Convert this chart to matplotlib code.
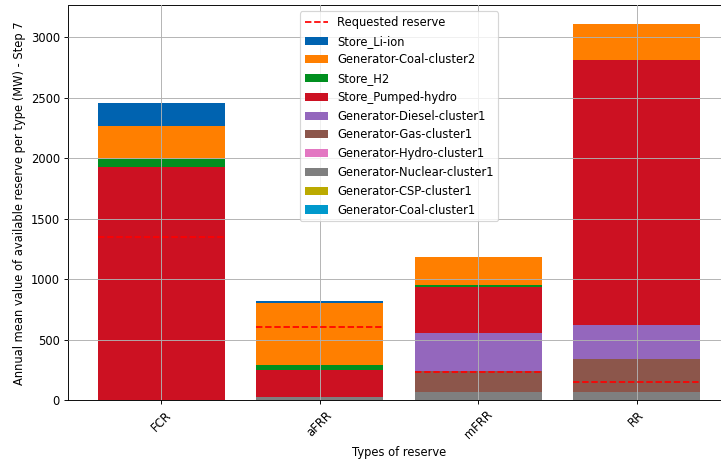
import matplotlib

matplotlib.use("Agg")
import matplotlib.pyplot as plt
import numpy as np
from matplotlib.lines import Line2D
from matplotlib.patches import Patch


RESERVES = ["FCR", "aFRR", "mFRR", "RR"]

# stacked from the bottom up (MW)
COAL1 = [0, 0, 0, 0]
CSP = [0, 0, 0, 0]
NUCLEAR = [0, 28, 69, 66]
HYDRO = [0, 0, 0, 0]
GAS = [0, 0, 169, 276]
DIESEL = [0, 0, 317, 278]
PUMPED = [1926, 223, 381, 2187]
H2 = [66, 42, 14, 6]
COAL2 = [276, 508, 232, 292]
LI_ION = [187, 22, 0, 0]

REQUESTED = [1345, 605, 235, 149]

LAYERS = [
    ("Generator-Coal-cluster1", COAL1, "#0099cc"),
    ("Generator-CSP-cluster1", CSP, "#bbaa00"),
    ("Generator-Nuclear-cluster1", NUCLEAR, "#7f7f7f"),
    ("Generator-Hydro-cluster1", HYDRO, "#e377c2"),
    ("Generator-Gas-cluster1", GAS, "#8c564b"),
    ("Generator-Diesel-cluster1", DIESEL, "#9467bd"),
    ("Store_Pumped-hydro", PUMPED, "#cc1122"),
    ("Store_H2", H2, "#008f1f"),
    ("Generator-Coal-cluster2", COAL2, "#ff7f00"),
    ("Store_Li-ion", LI_ION, "#0063b0"),
]


def main():
    fig = plt.figure(figsize=(721 / 83, 464 / 83), dpi=83)
    ax = fig.add_axes([68 / 721, 63.7 / 464, 662 / 721, 394.8 / 464])

    x = np.arange(len(RESERVES))
    width = 0.8
    bottom = np.zeros(len(RESERVES))
    handles = []
    for label, values, color in LAYERS:
        values = np.array(values, dtype=float)
        ax.bar(x, values, width, bottom=bottom, color=color, label=label)
        bottom += values
        handles.append(Patch(facecolor=color, label=label))

    ax.hlines(REQUESTED, x - width / 2, x + width / 2, colors="red",
              linestyles="--", linewidth=1.5, zorder=3)

    # zero-height top layers pin the autoscale, so pad the top by hand
    ax.set_ylim(0, bottom.max() * 1.05)

    ax.set_xticks(x, RESERVES, rotation=45)
    ax.set_xlabel("Types of reserve")
    ax.set_ylabel("Annual mean value of available reserve per type (MW) - Step 7")
    ax.grid(True)
    ax.set_axisbelow(False)

    req = Line2D([], [], color="red", linestyle="--", linewidth=1.5, label="Requested reserve")
    ax.legend(handles=[req] + handles[::-1], loc="upper center")

    fig.savefig("out.png", dpi=83)


if __name__ == "__main__":
    main()
